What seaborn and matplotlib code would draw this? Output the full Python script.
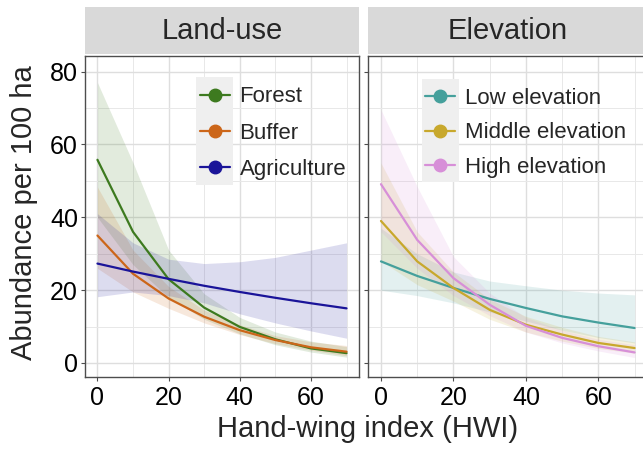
import numpy as np
import pandas as pd
import matplotlib
matplotlib.use('Agg')
import matplotlib.pyplot as plt
import seaborn as sns
from matplotlib.lines import Line2D
from matplotlib.patches import Rectangle

# ---- data (x = hand-wing index) ----
hwi = [0, 10, 20, 30, 40, 50, 60, 70]

landuse_groups = ['Forest', 'Buffer', 'Agriculture']
forest_fit = [55.8, 36.0, 23.0, 15.2, 9.9, 6.5, 4.0, 2.7]
forest_lo = [40.0, 27.0, 18.0, 12.0, 8.0, 5.0, 3.0, 1.6]
forest_hi = [77.0, 55.0, 31.0, 19.0, 12.5, 8.5, 6.0, 4.5]
buffer_fit = [35.0, 24.5, 17.7, 12.7, 9.0, 6.3, 4.3, 3.1]
buffer_lo = [26.0, 19.5, 15.0, 11.0, 7.8, 5.3, 3.5, 2.0]
buffer_hi = [48.3, 31.0, 21.0, 14.5, 10.5, 7.5, 5.8, 4.8]
agri_fit = [27.3, 25.1, 23.1, 21.2, 19.5, 17.9, 16.4, 15.0]
agri_lo = [18.2, 19.5, 18.5, 16.5, 13.5, 11.0, 8.8, 6.8]
agri_hi = [41.0, 33.0, 28.5, 27.3, 27.8, 29.0, 31.0, 33.0]

elev_groups = ['Low elevation', 'Middle elevation', 'High elevation']
low_fit = [27.9, 23.9, 20.6, 17.6, 15.1, 12.8, 11.1, 9.6]
low_lo = [20.0, 18.5, 16.5, 14.0, 11.5, 9.0, 7.0, 5.5]
low_hi = [37.0, 30.0, 25.0, 22.5, 21.2, 20.0, 19.2, 18.7]
mid_fit = [39.0, 27.9, 20.6, 14.6, 10.5, 7.8, 5.5, 4.1]
mid_lo = [28.0, 21.5, 17.0, 12.0, 8.5, 6.0, 4.0, 2.7]
mid_hi = [54.9, 36.0, 25.0, 17.5, 12.8, 9.8, 7.3, 5.8]
high_fit = [49.1, 33.8, 23.3, 16.0, 10.2, 6.9, 4.6, 2.9]
high_lo = [36.0, 26.0, 18.5, 13.0, 8.5, 5.5, 3.3, 1.5]
high_hi = [69.5, 48.4, 29.2, 19.2, 12.5, 9.0, 6.5, 5.0]

landuse_colors = ['#3d7a1f', '#cc6619', '#1a1499']
elev_colors = ['#45a09c', '#c8a82c', '#d78fd8']

rows = []
for panel, groups, fits, los, his in [
    ('Land-use', landuse_groups, [forest_fit, buffer_fit, agri_fit],
     [forest_lo, buffer_lo, agri_lo], [forest_hi, buffer_hi, agri_hi]),
    ('Elevation', elev_groups, [low_fit, mid_fit, high_fit],
     [low_lo, mid_lo, high_lo], [low_hi, mid_hi, high_hi]),
]:
    for g, f, lo, hi in zip(groups, fits, los, his):
        for x, a, b, c in zip(hwi, f, lo, hi):
            rows.append([panel, g, x, a, b, c])
df = pd.DataFrame(rows, columns=['panel', 'group', 'hwi', 'fit', 'lo', 'hi'])

sns.set_style('white')
plt.rcParams['font.family'] = ['Liberation Sans', 'DejaVu Sans']

fig = plt.figure(figsize=(6.43, 4.49), dpi=100)
H = 449
W = 643
ax1 = fig.add_axes([85 / W, 1 - 377 / H, 274 / W, 321 / H])
ax2 = fig.add_axes([368.3 / W, 1 - 377 / H, 279 / W, 321 / H])

# (axes, panel, groups, colours, legend anchor, legend row spacing)
panels = [
    (ax1, 'Land-use', landuse_groups, landuse_colors, (0.418, 0.905), 0.68),
    (ax2, 'Elevation', elev_groups, elev_colors, (0.205, 0.900), 0.60),
]

legends = []
for ax, name, groups, colors, anchor, spacing in panels:
    sub = df[df['panel'] == name]
    for g, c in zip(groups, colors):
        s = sub[sub['group'] == g]
        ax.fill_between(s['hwi'], s['lo'], s['hi'], color=c, alpha=0.15, lw=0)
    sns.lineplot(data=sub, x='hwi', y='fit', hue='group', hue_order=groups,
                 palette=colors, ax=ax, legend=False, lw=1.6)

    ax.set_xlim(-3.5, 73.5)
    ax.set_ylim(-3.85, 84.3)
    ax.set_xticks([0, 20, 40, 60])
    ax.set_xticks([10, 30, 50, 70], minor=True)
    ax.set_yticks([0, 20, 40, 60, 80])
    ax.set_yticks([10, 30, 50, 70], minor=True)
    ax.grid(which='major', color='#dedede', lw=1.0)
    ax.grid(which='minor', color='#e8e8e8', lw=0.7)
    ax.set_axisbelow(True)
    for sp in ax.spines.values():
        sp.set_color('#4d4d4d')
        sp.set_linewidth(1.0)
    ax.tick_params(which='major', direction='out', length=3, width=0.8,
                   color='#4d4d4d', labelsize=18, labelcolor='black',
                   bottom=True, left=True)
    ax.tick_params(axis='x', pad=3.5)
    ax.tick_params(axis='y', pad=2)
    ax.tick_params(which='minor', length=0)
    ax.set_xlabel('')
    ax.set_ylabel('')

    # facet strip
    ax.add_patch(Rectangle((0, 1.005), 1, 0.147, transform=ax.transAxes,
                           clip_on=False, facecolor='#d9d9d9', edgecolor='none'))
    ax.text(0.5, 1.005 + 0.147 / 2, name, transform=ax.transAxes,
            ha='center', va='center', fontsize=21)

    handles = [Line2D([0], [0], color=c, lw=1.6, marker='o', ms=9) for c in colors]
    leg = ax.legend(handles, groups, loc='upper left', bbox_to_anchor=anchor,
                    frameon=False, fontsize=16, handlelength=1.35,
                    handletextpad=0.45, labelspacing=spacing, borderpad=0,
                    borderaxespad=0)
    legends.append((ax, leg))

ax2.tick_params(labelleft=False)

fig.text(367.5 / W, 1 - 437 / H, 'Hand-wing index (HWI)', ha='center',
         va='baseline', fontsize=21)
fig.text(24 / W, 1 - 213 / H, 'Abundance per 100 ha', ha='center', va='center',
         rotation=90, fontsize=21)

# grey key column behind the legend symbols (ggplot legend.key)
fig.canvas.draw()
inv = fig.transFigure.inverted()
for ax, leg in legends:
    xs, ys = [], []
    for h in leg.legend_handles:
        pts = h.get_transform().transform(np.column_stack([h.get_xdata(), h.get_ydata()]))
        xs.extend(pts[:, 0])
        ys.append(pts[:, 1].mean())
    pitch = abs(ys[0] - ys[1])
    x0, x1 = min(xs) - 3.5, max(xs) + 3.5
    y0, y1 = min(ys) - pitch / 2, max(ys) + pitch / 2
    (fx0, fy0), (fx1, fy1) = inv.transform([(x0, y0), (x1, y1)])
    ax.add_patch(Rectangle((fx0, fy0), fx1 - fx0, fy1 - fy0,
                           transform=fig.transFigure, facecolor='#efefef',
                           edgecolor='none', zorder=4.8, clip_on=False))

fig.savefig('out.png', dpi=100)
